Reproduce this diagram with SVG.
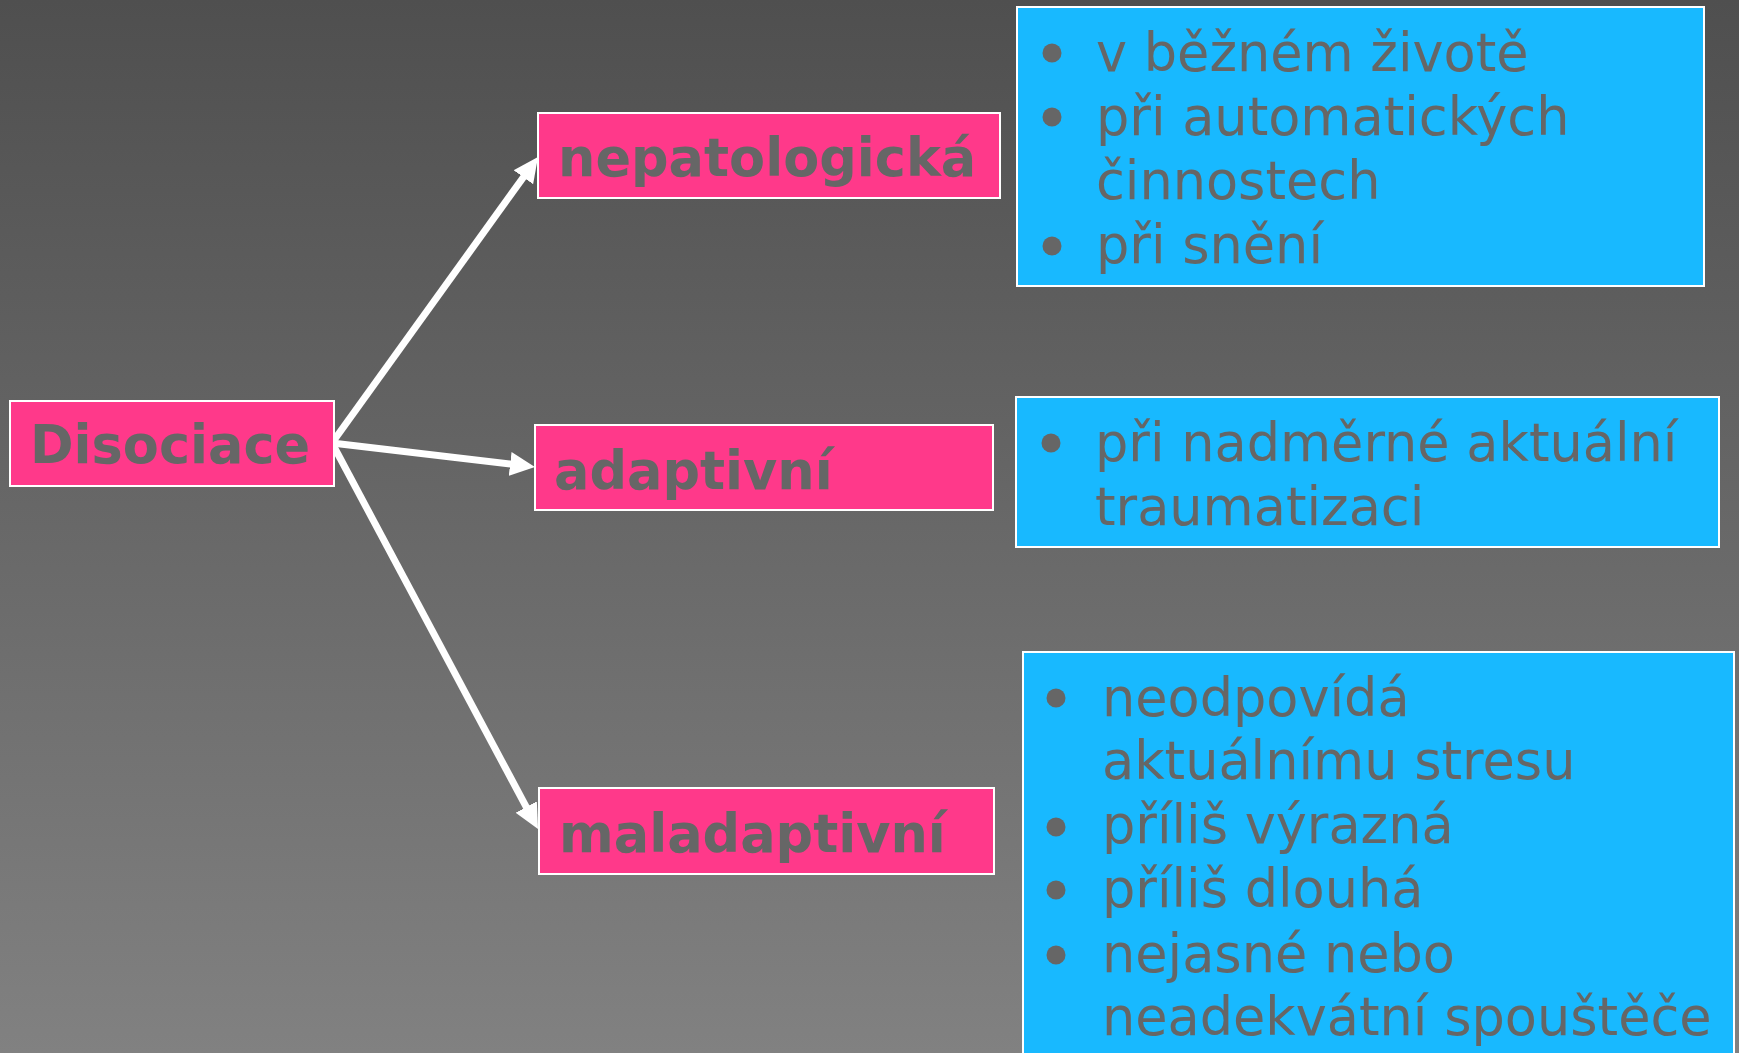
<svg xmlns="http://www.w3.org/2000/svg" width="1739" height="1053" viewBox="0 0 1739 1053">
<defs>
<linearGradient id="bg" x1="0" y1="0" x2="0" y2="1">
<stop offset="0" stop-color="#4f4f4f"/>
<stop offset="1" stop-color="#818181"/>
</linearGradient>
<marker id="ah" markerUnits="userSpaceOnUse" markerWidth="30" markerHeight="26" viewBox="0 -13 30 26" refX="5" refY="0" orient="auto">
<path d="M0,-12 L25,0 L0,12 Z" fill="#ffffff"/>
</marker>
<style>
.pink{fill:#ff398a;stroke:#ffffff;stroke-width:2}
.blue{fill:#18b9ff;stroke:#ffffff;stroke-width:2}
.lbl{font-family:"DejaVu Sans","Liberation Sans",sans-serif;font-weight:bold;font-size:52.5px;fill:#666666}
.item{font-family:"DejaVu Sans","Liberation Sans",sans-serif;font-size:52.5px;fill:#666666}
.bul{fill:#666666}
.con{stroke:#ffffff;stroke-width:7;fill:none;marker-end:url(#ah)}
</style>
</defs>
<rect x="0" y="0" width="1739" height="1053" fill="url(#bg)"/>
<g id="connectors">
<line class="con" x1="332" y1="443" x2="526.3" y2="173.2"/>
<line class="con" x1="332" y1="443" x2="515.1" y2="464.6"/>
<line class="con" x1="332" y1="443" x2="528.6" y2="811.4"/>
</g>
<g id="node-disociace">
<rect class="pink" x="10" y="401" width="324" height="85"/>
<text class="lbl" x="30" y="463">Disociace</text>
</g>
<g id="node-nepatologicka">
<rect class="pink" x="538" y="113" width="462" height="85"/>
<text class="lbl" x="558" y="176">nepatologická</text>
</g>
<g id="node-adaptivni">
<rect class="pink" x="535" y="425" width="458" height="85"/>
<text class="lbl" x="554" y="489">adaptivní</text>
</g>
<g id="node-maladaptivni">
<rect class="pink" x="539" y="788" width="455" height="86"/>
<text class="lbl" x="559" y="852">maladaptivní</text>
</g>
<g id="box-nepatologicka">
<rect class="blue" x="1017" y="7" width="687" height="279"/>
<circle class="bul" cx="1052" cy="53" r="9.5"/>
<circle class="bul" cx="1052" cy="117" r="9.5"/>
<circle class="bul" cx="1052" cy="246" r="9.5"/>
<text class="item" x="1096" y="71">v běžném životě</text>
<text class="item" x="1096" y="135">při automatických</text>
<text class="item" x="1096" y="199">činnostech</text>
<text class="item" x="1096" y="263">při snění</text>
</g>
<g id="box-adaptivni">
<rect class="blue" x="1016" y="397" width="703" height="150"/>
<circle class="bul" cx="1051" cy="443" r="9.5"/>
<text class="item" x="1095" y="461">při nadměrné aktuální</text>
<text class="item" x="1095" y="525">traumatizaci</text>
</g>
<g id="box-maladaptivni">
<rect class="blue" x="1023" y="652" width="711" height="420"/>
<circle class="bul" cx="1056" cy="698" r="9.5"/>
<circle class="bul" cx="1056" cy="827" r="9.5"/>
<circle class="bul" cx="1056" cy="890" r="9.5"/>
<circle class="bul" cx="1056" cy="955" r="9.5"/>
<text class="item" x="1102" y="716">neodpovídá</text>
<text class="item" x="1102" y="779">aktuálnímu stresu</text>
<text class="item" x="1102" y="843">příliš výrazná</text>
<text class="item" x="1102" y="907">příliš dlouhá</text>
<text class="item" x="1102" y="972">nejasné nebo</text>
<text class="item" x="1102" y="1035">neadekvátní spouštěče</text>
</g>
</svg>
